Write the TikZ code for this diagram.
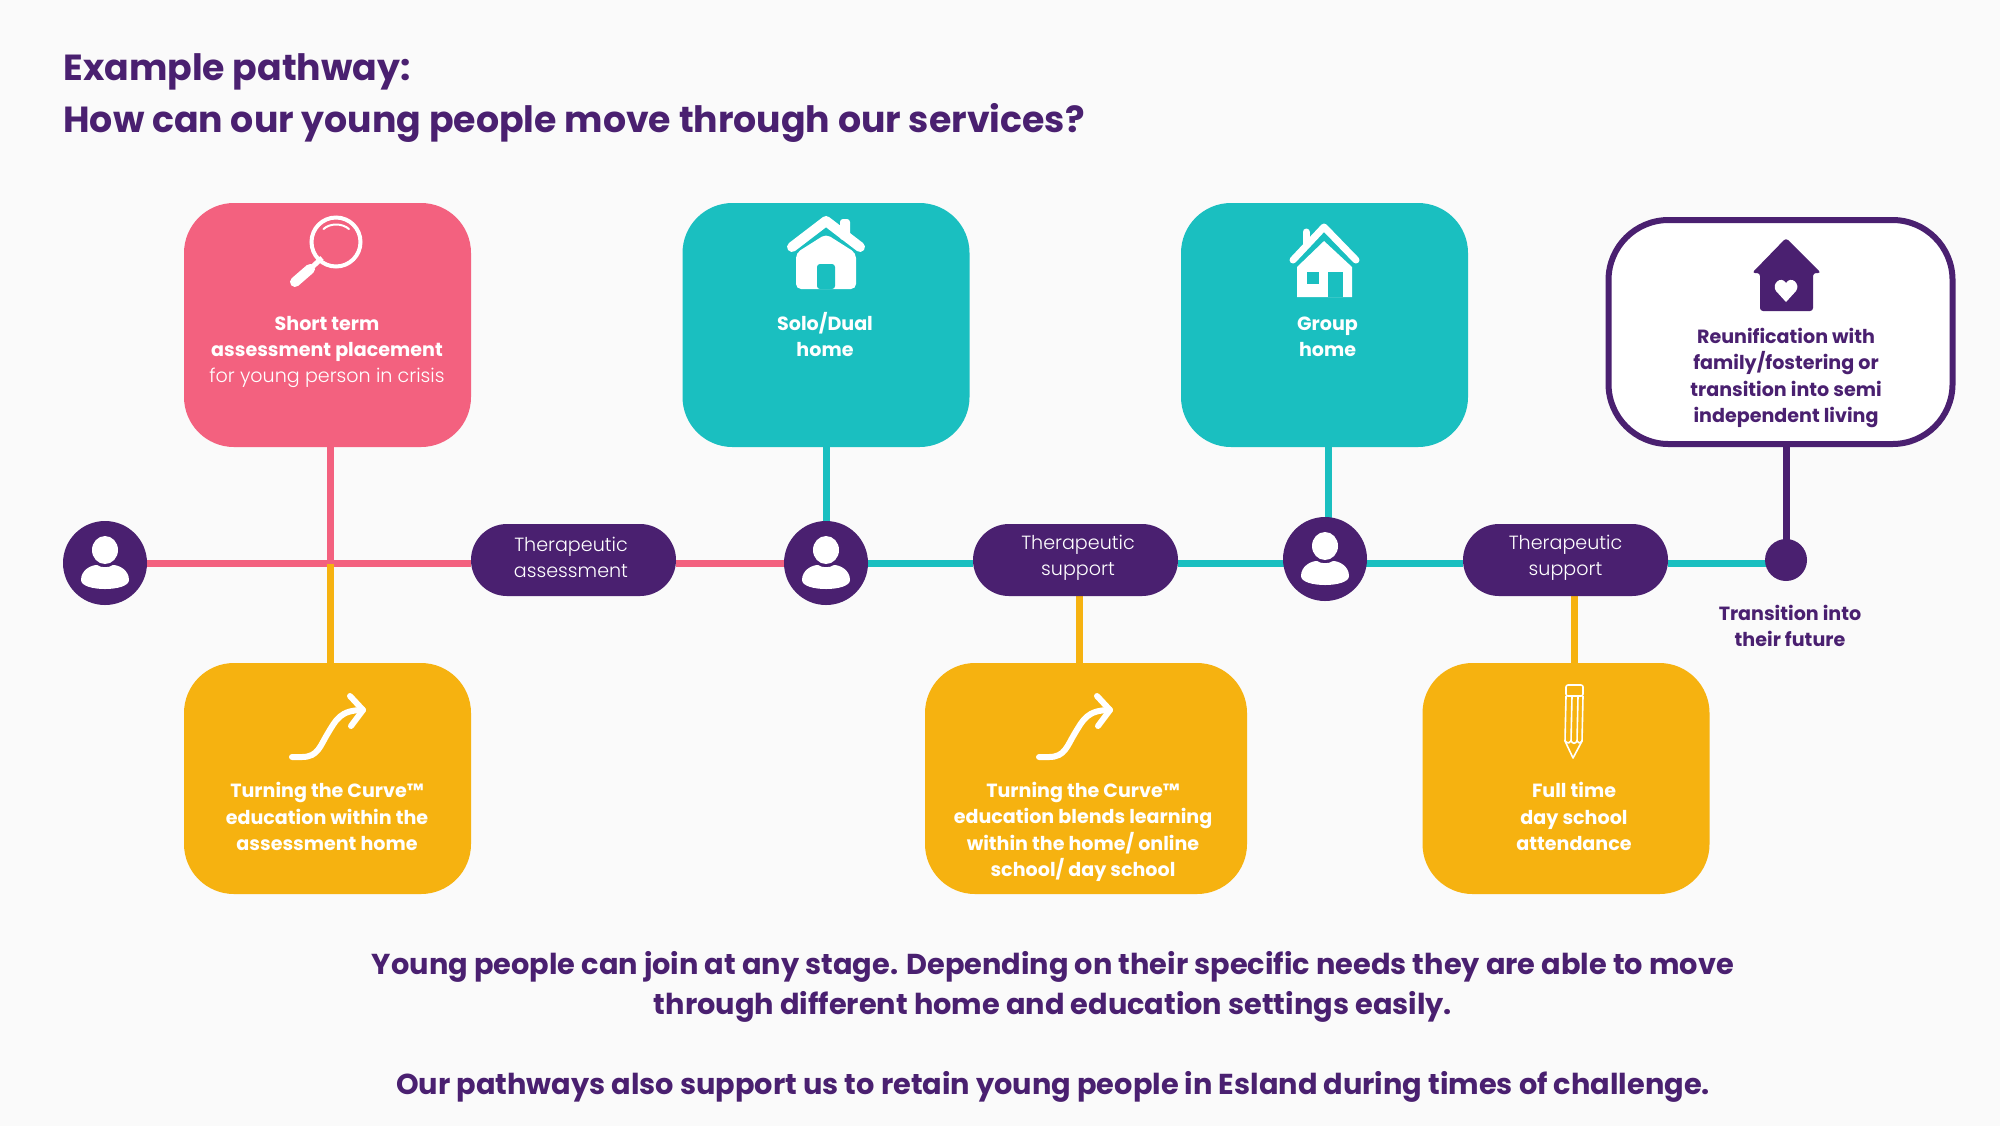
\documentclass[tikz,border=0pt]{standalone}
\usepackage{fontspec}
\setmainfont{Poppins}
\newfontfamily\lightf{Poppins Light}
\definecolor{cpink}{HTML}{F3617F}
\definecolor{cteal}{HTML}{1ABFC0}
\definecolor{cyel}{HTML}{F6B210}
\definecolor{cpur}{HTML}{4A2070}
\definecolor{cbg}{HTML}{FAFAFA}
\pgfdeclarelayer{bg}\pgfdeclarelayer{lines}
\pgfsetlayers{bg,lines,main}
\tikzset{
 x=0.5pt,y=-0.5pt,
 card/.style={rounded corners=25pt,minimum width=143.5pt,inner sep=0pt,outer sep=0pt,draw=none},
 pill/.style={fill=cpur,rounded corners=18pt,minimum width=102.5pt,minimum height=36pt,inner sep=0pt,outer sep=0pt},
 hub/.style={circle,fill=cpur,minimum size=42pt,inner sep=0pt,outer sep=0pt},
 wire/.style={line width=3.5pt},
 ctext/.style={align=center,font=\fontsize{9.55}{13.2}\selectfont\bfseries,inner sep=0pt},
 ptext/.style={align=center,font=\fontsize{9.55}{13}\selectfont\lightf,text=white,inner sep=0pt},
 bigtext/.style={align=center,font=\fontsize{14.4}{20}\selectfont\bfseries,text=cpur,inner sep=0pt},
 person/.pic={
  \fill[white] (0,-13) ellipse (13 and 14);
  \fill[white] (-24,17) .. controls (-24,7) and (-14,2) .. (-8,2) .. controls (-4,5) and (4,5) .. (8,2) .. controls (14,2) and (24,7) .. (24,17) .. controls (24,29) and (-24,29) .. (-24,17) -- cycle;
 },
 curvearrow/.pic={
  \draw[white,line width=3pt,line cap=round,line join=round] (-38,47) -- (-28,47) .. controls (-12,47) and (-10,36) .. (-2,23) .. controls (6,10) and (10,0) .. (33,0);
  \draw[white,line width=3pt,line cap=round,line join=round] (20,-14) -- (33,0) -- (21,16);
 }
}
\begin{document}
\begin{tikzpicture}
\useasboundingbox (0,0) rectangle (2000,1126);
\begin{pgfonlayer}{bg}\fill[cbg] (0,0) rectangle (2000,1126);\end{pgfonlayer}
% cards
\node[card,fill=cpink,minimum height=122pt] (pinkc) at (327.5,325) {};
\node[card,fill=cteal,minimum height=122pt] (solo) at (826,325) {};
\node[card,fill=cteal,minimum height=122pt] (group) at (1324.5,325) {};
\node[card,fill=white,draw=cpur,line width=3pt,rounded corners=30pt,minimum width=172pt,minimum height=112pt,outer sep=1.5pt] (reun) at (1780.5,332) {};
\node[card,fill=cyel,minimum height=115.5pt] (yone) at (327.5,778.5) {};
\node[card,fill=cyel,minimum width=161pt,minimum height=115.5pt] (ytwo) at (1086,778.5) {};
\node[card,fill=cyel,minimum height=115.5pt] (ythree) at (1566,778.5) {};
% hubs & pills
\node[hub] (pa) at (105,563) {};
\node[hub] (pb) at (826,563) {};
\node[hub] (pc) at (1325,559) {};
\node[hub,minimum size=21pt] (dot) at (1786,560) {};
\node[pill] (ta) at (573.5,560) {};
\node[pill] (tb) at (1075.5,560) {};
\node[pill] (tc) at (1565.5,560) {};
\coordinate (jn) at (330,563);
\coordinate (yb) at (1079,596);
\coordinate (yc) at (1574,596);
% connectors
\begin{pgfonlayer}{lines}
\draw[wire,cpink] (pa.center) -- (jn) -- (ta.west |- jn);
\draw[wire,cpink] (ta.east |- jn) -- (pb.center);
\draw[wire,cteal] (pb.center) -- (tb.west |- jn);
\draw[wire,cteal] (tb.east |- jn) -- (pc.center |- jn) -- (tc.west |- jn);
\draw[wire,cteal] (tc.east |- jn) -- (dot.center |- jn);
\draw[wire,cpink] (pinkc.south -| jn) -- (jn);
\draw[wire,cyel] (yone.north -| jn) -- (330,564);
\draw[wire,cteal] (solo.south) -- (pb.center);
\draw[wire,cteal] (group.south -| 1328,0) -- (1328,540);
\draw[wire,cyel] (ytwo.north -| yb) -- (yb);
\draw[wire,cyel] (ythree.north -| yc) -- (yc);
\draw[wire,cpur] (reun.south -| dot) -- (dot.center);
\end{pgfonlayer}
% persons
\path (pa) pic {person};
\path (pb) pic {person};
\path (pc) pic {person};
% magnifier
\draw[white,line width=2pt] (336,242) circle (24.5);
\draw[white,line width=1pt,line cap=round] (323.5,229) .. controls (330,223) and (342,223) .. (349,229);
\draw[white,line width=2.5pt] (322,258) -- (310,269);
\draw[white,line width=5pt,line cap=round] (310,269) -- (295,282);
% house 1
\fill[white,rounded corners=1.5pt] (840,219) rectangle (850,240);
\draw[white,line width=5pt,line cap=round,line join=round] (792,247) -- (826,221) -- (860,247);
\fill[white,rounded corners=2.5pt] (796,253) -- (826,234) -- (856,253) -- (856,289) -- (796,289) -- cycle;
\fill[cteal,rounded corners=1.5pt] (817,289) -- (817,264) -- (835,264) -- (835,289) -- cycle;
% house 2
\draw[white,line width=3.5pt,line cap=round] (1306,232) -- (1306,245);
\draw[white,line width=3.5pt,line cap=round,line join=round] (1293,260) -- (1324,227) -- (1356,260);
\fill[white] (1297,267) -- (1324,241) -- (1352,267) -- (1352,297) -- (1297,297) -- cycle;
\fill[cteal] (1307,272) rectangle (1319,284);
\fill[cteal] (1328,272) rectangle (1343,297);
% house 3
\fill[cpur,rounded corners=1.5pt] (1786,238) -- (1821,273) -- (1813,273) -- (1813,311) -- (1760,311) -- (1760,273) -- (1752,273) -- cycle;
\fill[white] (1786,302) -- (1776,291) .. controls (1771,284) and (1781,275) .. (1786,283) .. controls (1791,275) and (1801,284) .. (1796,291) -- cycle;
% curve arrows
\path (330,710) pic {curvearrow};
\path (1077,710) pic {curvearrow};
% pencil
\begin{scope}[white,line width=0.8pt,line join=round]
\draw[rounded corners=1pt] (1566,696) -- (1566,685) -- (1583,685) -- (1583,696) -- cycle;
\draw (1566,696) -- (1565,741) -- (1573,758) -- (1582,741) -- (1583,696);
\draw (1572,696) -- (1571,741) (1578,696) -- (1577,741);
\draw (1565,741) .. controls (1568,744) and (1570,743) .. (1571,741) .. controls (1573,744) and (1575,744) .. (1577,741) .. controls (1578,743) and (1580,744) .. (1582,741);
\end{scope}
% texts
\node[anchor=base west,inner sep=0pt,font=\fontsize{18.15}{20}\selectfont\bfseries,text=cpur] (t1) at (63,80) {Example pathway:};
\node[anchor=base west,inner sep=0pt,font=\fontsize{18.15}{20}\selectfont\bfseries,text=cpur] (t2) at (63,132) {How can our young people move through our services?};
\node[ctext,text=white] (l1) at (327,352) {Short term\\assessment placement\\{\mdseries\lightf for young person in crisis}};
\node[ctext,text=white] (l2) at (825,334.5) {Solo/Dual\\home};
\node[ctext,text=white] (l3) at (1327.5,337) {Group\\home};
\node[ctext,text=cpur] (l4) at (1786,378) {Reunification with\\family/fostering or\\transition into semi\\independent living};
\node[ctext,text=white] (l5) at (327,816.5) {Turning the Curve™\\education within the\\assessment home};
\node[ctext,text=white] (l6) at (1083,832) {Turning the Curve™\\education blends learning\\within the home/ online\\school/ day school};
\node[ctext,text=white] (l7) at (1574,816.5) {Full time\\day school\\attendance};
\node[ctext,text=cpur] (l8) at (1790,626) {Transition into\\their future};
\node[ptext] (p1) at (571,557.5) {Therapeutic\\assessment};
\node[ptext] (p2) at (1078,558) {Therapeutic\\support};
\node[ptext] (p3) at (1565.5,558) {Therapeutic\\support};
\node[bigtext] (b1) at (1053,986.5) {Young people can join at any stage. Depending on their specific needs they are able to move\\through different home and education settings easily.};
\node[bigtext] (b2) at (1053,1086.5) {Our pathways also support us to retain young people in Esland during times of challenge.};
\end{tikzpicture}
\end{document}
